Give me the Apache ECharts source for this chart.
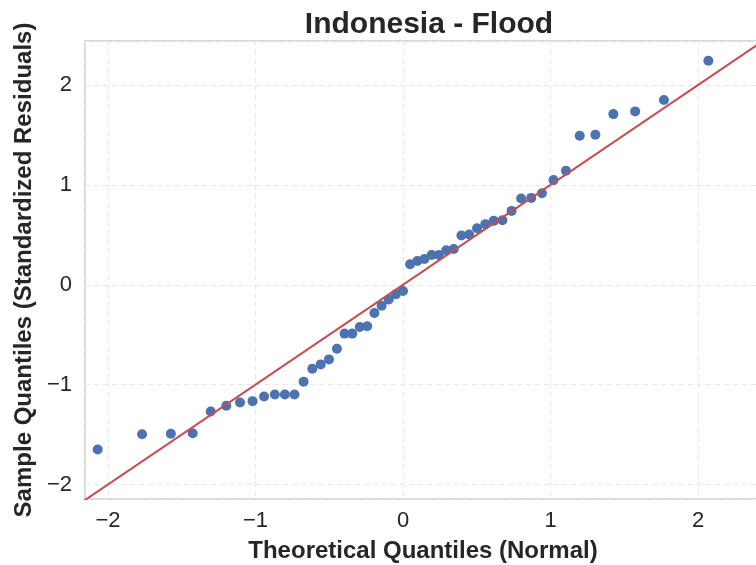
<!DOCTYPE html>
<html>
<head>
<meta charset="utf-8">
<script src="https://cdn.jsdelivr.net/npm/echarts@6/dist/echarts.min.js"></script>
<style>
  html, body { margin: 0; padding: 0; background: #ffffff; }
  #chart { width: 756px; height: 565px; }
</style>
</head>
<body>
<div id="chart"></div>
<script>
// Theoretical normal quantiles (n = 51)
const theoretical = [
  -2.070, -1.769, -1.574, -1.426, -1.304, -1.198, -1.105, -1.020, -0.942, -0.869,
  -0.801, -0.736, -0.674, -0.615, -0.558, -0.502, -0.448, -0.396, -0.344, -0.293,
  -0.243, -0.194, -0.145, -0.097, -0.048, 0.000, 0.048, 0.097, 0.145, 0.194,
  0.243, 0.293, 0.344, 0.396, 0.448, 0.502, 0.558, 0.615, 0.674, 0.736,
  0.801, 0.869, 0.942, 1.020, 1.105, 1.198, 1.304, 1.426, 1.574, 1.769,
  2.070
];

// Ordered standardized residuals
const sampleQuantiles = [
  -1.649, -1.496, -1.492, -1.486, -1.268, -1.211, -1.178, -1.165, -1.118, -1.098,
  -1.098, -1.098, -0.970, -0.840, -0.797, -0.747, -0.640, -0.489, -0.489, -0.423,
  -0.416, -0.283, -0.209, -0.148, -0.095, -0.062, 0.206, 0.239, 0.259, 0.299,
  0.299, 0.346, 0.359, 0.493, 0.503, 0.566, 0.607, 0.640, 0.647, 0.740,
  0.864, 0.870, 0.917, 1.048, 1.141, 1.492, 1.502, 1.709, 1.736, 1.850,
  2.244
];

// 45-degree reference line endpoints
const refLine = [-2.3, 2.6];

const xRange = [-2.156, 2.427];
const yRange = [-2.145, 2.441];

const points = theoretical.map((t, i) => [t, sampleQuantiles[i]]);
const linePts = refLine.map(v => [v, v]);

const fontFamily = '"Liberation Sans", Arial, Helvetica, sans-serif';
const minus = v => (v < 0 ? '\u2212' + Math.abs(v) : String(v));
const tickFmt = v => (Math.abs(v - Math.round(v)) < 1e-9 ? minus(Math.round(v)) : '');

const chart = echarts.init(document.getElementById('chart'), null, { renderer: 'canvas' });
chart.setOption({
  backgroundColor: '#ffffff',
  animation: false,
  title: {
    text: 'Indonesia - Flood',
    left: 424,
    textAlign: 'center',
    top: 5,
    textStyle: { fontFamily, fontSize: 30, fontWeight: 'bold', color: '#262626' }
  },
  grid: {
    left: 85, top: 41, bottom: 66, right: -5,
    outerBoundsMode: 'none',
    containLabel: false,
    show: true, borderColor: '#cccccc', borderWidth: 1.5, backgroundColor: 'transparent'
  },
  xAxis: {
    type: 'value',
    min: xRange[0], max: xRange[1],
    splitNumber: 5,
    name: 'Theoretical Quantiles (Normal)',
    nameLocation: 'middle',
    nameGap: 40,
    nameTextStyle: { fontFamily, fontSize: 24, fontWeight: 'bold', color: '#262626' },
    axisLine: { show: false },
    axisTick: { show: false },
    axisLabel: {
      formatter: tickFmt, margin: 11,
      fontFamily, fontSize: 22, color: '#262626',
      showMinLabel: false, showMaxLabel: false
    },
    splitLine: { show: true, lineStyle: { color: '#e8e8e8', width: 1, type: [5, 4] } }
  },
  yAxis: {
    type: 'value',
    min: yRange[0], max: yRange[1],
    splitNumber: 5,
    name: 'Sample Quantiles (Standardized Residuals)',
    nameLocation: 'middle',
    nameGap: 39,
    nameTextStyle: { fontFamily, fontSize: 24, fontWeight: 'bold', color: '#262626' },
    axisLine: { show: false },
    axisTick: { show: false },
    axisLabel: {
      formatter: tickFmt, margin: 13,
      fontFamily, fontSize: 22, color: '#262626',
      showMinLabel: false, showMaxLabel: false
    },
    splitLine: { show: true, lineStyle: { color: '#e8e8e8', width: 1, type: [5, 4] } }
  },
  series: [
    {
      type: 'scatter',
      data: points,
      symbol: 'circle',
      symbolSize: 10,
      itemStyle: { color: '#4c72b0', opacity: 1 },
      z: 2
    },
    {
      type: 'line',
      data: linePts,
      showSymbol: false,
      clip: true,
      lineStyle: { color: '#c44e52', width: 2 },
      z: 3
    }
  ]
});
</script>
</body>
</html>
